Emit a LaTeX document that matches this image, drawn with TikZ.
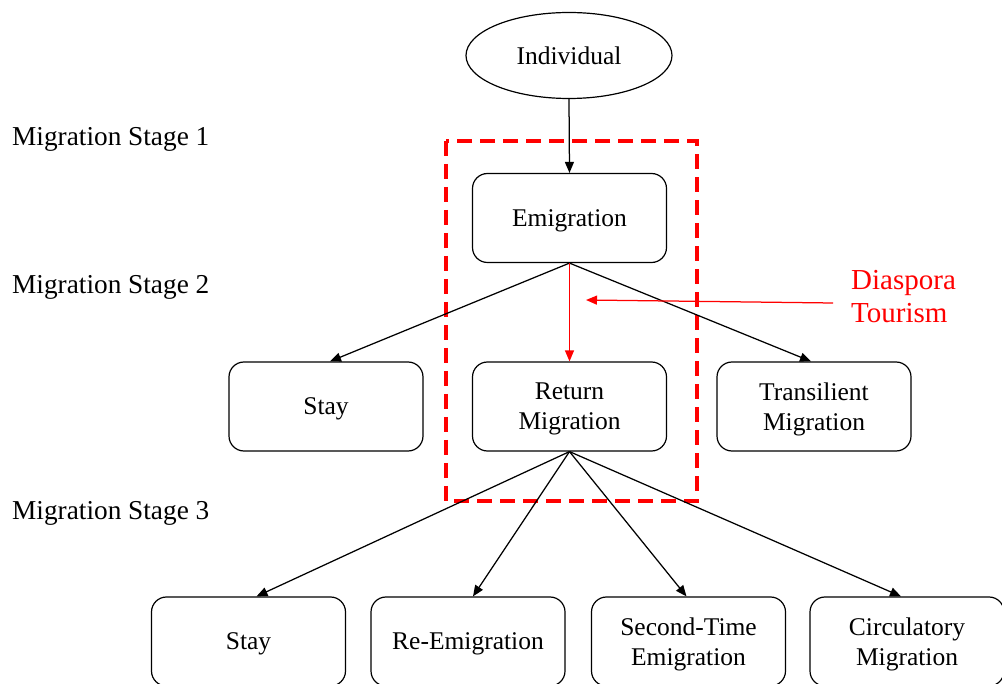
\documentclass[tikz,border=0pt]{standalone}
\usepackage{fontspec}
\setmainfont{Liberation Serif}
\usetikzlibrary{arrows.meta,shapes.geometric}
\begin{document}
\begin{tikzpicture}[x=1pt,y=-1pt,
  boxtext/.style={font=\fontsize{25.5}{30}\selectfont},
  stagebox/.style={boxtext,draw,rounded corners=15pt,line width=1.2pt,
    minimum width=194pt,minimum height=89pt,inner sep=0pt,align=center,text depth=0pt},
  stagelabel/.style={font=\fontsize{27.3}{30}\selectfont,anchor=west,inner sep=0pt},
  link/.style={line width=1.25pt,-{Triangle[length=11pt,width=9pt]}},
  redlink/.style={red,line width=1.25pt,-{Triangle[length=11pt,width=9pt]}}]
\useasboundingbox (0,0) rectangle (1002,684);

% stage captions on the left
\node[stagelabel] (lab1) at (12,139) {Migration Stage 1};
\node[stagelabel] (lab2) at (12,287) {Migration Stage 2};
\node[stagelabel] (lab3) at (12,513) {Migration Stage 3};

% top node
\node[boxtext,draw,ellipse,line width=1.2pt,minimum width=206pt,minimum height=86pt,inner sep=0pt]
  (ind) at (569,55.5) {Individual};

% stage 1
\node[stagebox] (emi) at (569.5,218) {Emigration};

% stage 2
\node[stagebox] (stay2) at (326,406.5) {Stay};
\node[stagebox] (ret) at (569.5,406.5) {Return\\Migration};
\node[stagebox] (trans) at (814,406.5) {Transilient\\Migration};

% stage 3 (bottom row runs off the lower edge)
\node[stagebox] (stay3) at (248.5,641.5) {Stay};
\node[stagebox] (reemi) at (468,641.5) {Re-Emigration};
\node[stagebox] (second) at (688.5,641.5) {Second-Time\\Emigration};
\node[stagebox] (circ) at (907,641.5) {Circulatory\\Migration};

% highlighted return-migration frame
\draw[red,line width=3.2pt,dash pattern=on 15pt off 8pt] (446,141) rectangle (697,501);

% connectors
\draw[link] (ind.south) -- (emi.north);
\draw[link] (emi.south) -- ([xshift=4pt]stay2.north);
\draw[link] (emi.south) -- ([xshift=-3pt]trans.north);
\draw[redlink] (emi.south) -- (ret.north);
\draw[link] (ret.south) -- ([xshift=8pt]stay3.north);
\draw[link] (ret.south) -- ([xshift=5pt]reemi.north);
\draw[link] (ret.south) -- ([xshift=-2pt]second.north);
\draw[link] (ret.south) -- ([xshift=-6pt]circ.north);

% diaspora tourism annotation
\node[red,font=\fontsize{29}{33}\selectfont,anchor=west,align=left,inner sep=0pt]
  (dia) at (851,297) {Diaspora\\Tourism};
\coordinate (diatail) at (833,303);
\coordinate (diatip) at (586,300);
\draw[redlink] (diatail) -- (diatip);
\end{tikzpicture}
\end{document}
